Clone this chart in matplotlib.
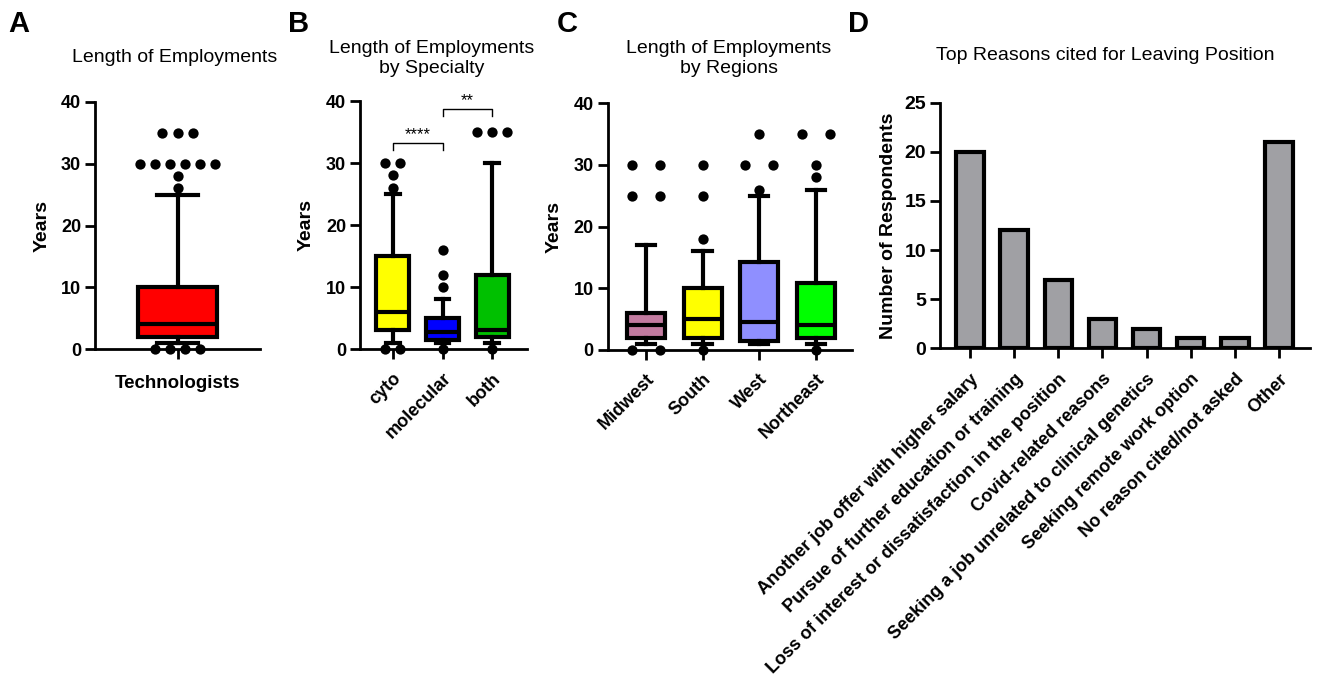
import numpy as np
import matplotlib
matplotlib.use('Agg')
import matplotlib.pyplot as plt

plt.rcParams['font.family'] = ['Liberation Sans', 'DejaVu Sans']

###############################################################################
# 数据

# A 全体技术人员
a_labels = ['Technologists']
a_q1 = [2]
a_med = [4]
a_q3 = [10]
a_lo = [1]
a_hi = [25]
a_fliers = [[35, 35, 35, 30, 30, 30, 30, 30, 30, 28, 26, 0, 0, 0, 0]]
a_colors = ['#FF0000']

# B 按专业
b_labels = ['cyto', 'molecular', 'both']
b_q1 = [3, 1.5, 2]
b_med = [6, 2.75, 3]
b_q3 = [15, 5, 12]
b_lo = [1, 1, 1]
b_hi = [25, 8, 30]
b_fliers = [[30, 30, 28, 26, 0, 0],
            [16, 12, 10, 0],
            [35, 35, 35, 0]]
b_colors = ['#FFFF00', '#0000FF', '#00C000']
b_sig = [(0, 1, 33.2, '****'), (1, 2, 38.7, '**')]

# C 按地区
c_labels = ['Midwest', 'South', 'West', 'Northeast']
c_q1 = [2, 2, 1.5, 2]
c_med = [4, 5, 4.5, 4]
c_q3 = [6, 10, 14.3, 10.8]
c_lo = [1, 1, 1, 1]
c_hi = [17, 16, 25, 26]
c_fliers = [[30, 30, 25, 25, 0, 0],
            [30, 25, 18, 0],
            [35, 30, 30, 26],
            [35, 35, 30, 28, 0]]
c_colors = ['#C27BA0', '#FFFF00', '#8F8FFF', '#00FF00']

# D 离职原因
d_labels = ['Another job offer with higher salary',
            'Pursue of further education or training',
            'Loss of interest or dissatisfaction in the position',
            'Covid-related reasons',
            'Seeking a job unrelated to clinical genetics',
            'Seeking remote work option',
            'No reason cited/not asked',
            'Other']
d_values = [20, 12, 7, 3, 2, 1, 1, 21]

###############################################################################
W, H = 1318, 676


def rect(x0, x1, y0, y1):
    # 像素坐标 -> figure坐标
    return [x0 / W, 1 - y1 / H, (x1 - x0) / W, (y1 - y0) / H]


def offsets(values, step):
    # 相同数值的点水平排开，和GraphPad一样
    vals = list(values)
    seen = {}
    out = []
    for v in vals:
        n = vals.count(v)
        k = seen.get(v, 0)
        seen[v] = k + 1
        out.append((k - (n - 1) / 2) * step)
    return np.array(out)


def style(ax):
    ax.spines['top'].set_visible(False)
    ax.spines['right'].set_visible(False)
    ax.spines['left'].set_linewidth(2)
    ax.spines['bottom'].set_linewidth(2)
    ax.tick_params(width=2, length=7, labelsize=13, pad=3)


def box_panel(ax, labels, q1, med, q3, lo, hi, fliers, colors, width, capw, step):
    stats = []
    for i in range(len(labels)):
        stats.append(dict(q1=q1[i], med=med[i], q3=q3[i],
                          whislo=lo[i], whishi=hi[i], fliers=[]))
    lw = 3
    bp = ax.bxp(stats, positions=range(len(labels)), widths=width,
                capwidths=capw, patch_artist=True, showfliers=False,
                manage_ticks=False,
                boxprops=dict(linewidth=lw, edgecolor='k'),
                whiskerprops=dict(linewidth=lw, color='k'),
                capprops=dict(linewidth=lw, color='k'),
                medianprops=dict(linewidth=lw, color='k'))
    for patch, c in zip(bp['boxes'], colors):
        patch.set_facecolor(c)
    for i, f in enumerate(fliers):
        ax.scatter(i + offsets(f, step), f, s=55, color='k', zorder=5,
                   clip_on=False, linewidths=0)
    ax.set_ylim(0, 40)
    ax.set_yticks([0, 10, 20, 30, 40])
    ax.set_yticklabels(['0', '10', '20', '30', '40'], fontweight='bold')
    ax.set_xticks(range(len(labels)))
    style(ax)


fig = plt.figure(figsize=(13.18, 6.76), dpi=100)

# A
axA = fig.add_axes(rect(95, 260, 102, 349))
box_panel(axA, a_labels, a_q1, a_med, a_q3, a_lo, a_hi, a_fliers, a_colors,
          width=0.48, capw=0.25, step=0.091)
axA.set_xlim(-0.5, 0.5)
axA.set_xticklabels(a_labels, fontweight='bold', fontsize=13.5)
axA.tick_params(axis='x', pad=12)
axA.set_ylabel('Years', fontsize=14, fontweight='bold')
axA.yaxis.set_label_coords(-0.27, 0.5)

# B
axB = fig.add_axes(rect(360, 527, 101, 349))
box_panel(axB, b_labels, b_q1, b_med, b_q3, b_lo, b_hi, b_fliers, b_colors,
          width=0.66, capw=0.27, step=0.3)
axB.set_xlim(-0.66, 2.7)
axB.set_xticklabels(b_labels, fontweight='bold', fontsize=13, rotation=45,
                    ha='right', rotation_mode='anchor')
axB.tick_params(axis='x', pad=8)
axB.set_ylabel('Years', fontsize=14, fontweight='bold')
axB.yaxis.set_label_coords(-0.27, 0.5)
for x0, x1, y, txt in b_sig:
    axB.plot([x0, x0, x1, x1], [y - 1.1, y, y, y - 1.1], color='k', lw=1,
             clip_on=False)
    axB.text((x0 + x1) / 2, y + 0.1, txt, ha='center', va='bottom', fontsize=12)

# C
axC = fig.add_axes(rect(607.7, 852, 103.3, 350))
box_panel(axC, c_labels, c_q1, c_med, c_q3, c_lo, c_hi, c_fliers, c_colors,
          width=0.67, capw=0.32, step=0.49)
axC.set_xlim(-0.67, 3.63)
axC.set_xticklabels(c_labels, fontweight='bold', fontsize=13, rotation=45,
                    ha='right', rotation_mode='anchor')
axC.tick_params(axis='x', pad=8)
axC.set_ylabel('Years', fontsize=14, fontweight='bold')
axC.yaxis.set_label_coords(-0.183, 0.5)

# D
axD = fig.add_axes(rect(940, 1310, 102.7, 348.3))
xd = np.arange(len(d_labels))
axD.bar(xd, d_values, width=0.62, color='#A0A0A4', edgecolor='k', linewidth=3,
        zorder=3)
axD.set_xlim(-0.68, 7.7)
axD.set_ylim(0, 25)
axD.set_yticks([0, 5, 10, 15, 20, 25])
axD.set_yticklabels(['0', '5', '10', '15', '20', '25'], fontweight='bold')
axD.set_xticks(xd)
axD.set_xticklabels(d_labels, fontweight='bold', fontsize=12.5, rotation=45,
                    ha='right', rotation_mode='anchor')
style(axD)
axD.tick_params(axis='y', labelsize=14)
axD.tick_params(axis='x', pad=9)
axD.set_ylabel('Number of Respondents', fontsize=14, fontweight='bold')
axD.yaxis.set_label_coords(-0.116, 0.5)

# 标题
fig.text(175 / W, 1 - 57 / H, 'Length of Employments', ha='center',
         va='center', fontsize=14)
fig.text(432 / W, 1 - 58.5 / H, 'Length of Employments\nby Specialty',
         ha='center', va='center', fontsize=14, linespacing=1.25)
fig.text(729 / W, 1 - 58.5 / H, 'Length of Employments\nby Regions',
         ha='center', va='center', fontsize=14, linespacing=1.25)
fig.text(1105 / W, 1 - 55 / H, 'Top Reasons cited for Leaving Position',
         ha='center', va='center', fontsize=14)

# 面板字母
for lab, px in [('A', 8), ('B', 288), ('C', 557), ('D', 848)]:
    fig.text(px / W, 1 - 24 / H, lab, ha='left', va='center', fontsize=21,
             fontweight='bold')

fig.savefig('out.png', dpi=100)
